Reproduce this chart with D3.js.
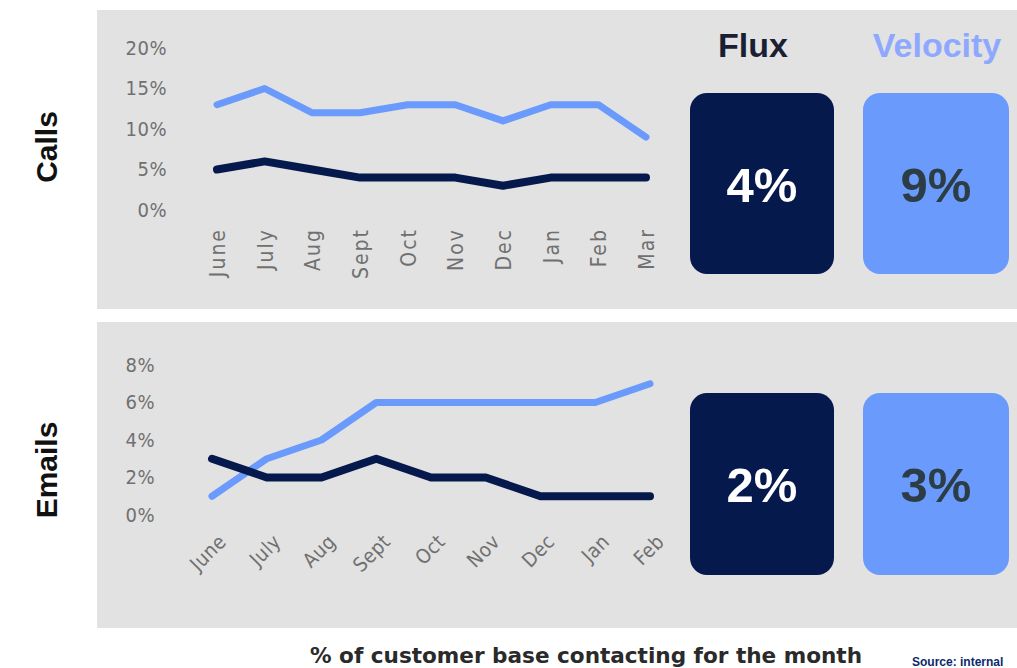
<!DOCTYPE html>
<html><head><meta charset="utf-8">
<script src="https://cdn.jsdelivr.net/npm/d3@7"></script>
<style>body{margin:0;background:#fff}svg{display:block}</style>
</head><body>
<svg id="c" width="1017" height="668"></svg>
<script>
// ---- data ----
const callsMonths = ["June","July","Aug","Sept","Oct","Nov","Dec","Jan","Feb","Mar"];
const callsFlux = [5,6,5,4,4,4,3,4,4,4];
const callsVelocity = [13,15,12,12,13,13,11,13,13,9];
const callsTicks = [0,5,10,15,20];
const emailMonths = ["June","July","Aug","Sept","Oct","Nov","Dec","Jan","Feb"];
const emailFlux = [3,2,2,3,2,2,1,1,1];
const emailVelocity = [1,3,4,6,6,6,6,6,7];
const emailTicks = [0,2,4,6,8];
const summaryLabels = ["Flux","Velocity"];
const callsSummary = ["4%","9%"];
const emailSummary = ["2%","3%"];

const DARK = "#06194d", LIGHT = "#6a9bfc";
const svg = d3.select("#c");
const tickFont = "'DejaVu Sans Condensed','DejaVu Sans',sans-serif";

// panels
svg.append("rect").attr("x",97).attr("y",10).attr("width",930).attr("height",299).attr("fill","#e2e2e2");
svg.append("rect").attr("x",97).attr("y",322).attr("width",930).attr("height",306).attr("fill","#e2e2e2");

function panel(months, flux, vel, ticks, xr, yr, ymax, rotate, labelY, tickX){
  const x = d3.scalePoint().domain(months).range(xr);
  const y = d3.scaleLinear().domain([0,ymax]).range(yr);
  const g = svg.append("g");
  // y ticks
  const ya = d3.axisLeft(y).tickValues(ticks).tickFormat(d=>d+"%").tickSize(0).tickPadding(0);
  const yg = g.append("g").attr("transform",`translate(${tickX},0)`).call(ya);
  yg.select(".domain").remove();
  yg.selectAll("text").attr("font-family",tickFont).attr("font-size",20).attr("letter-spacing",0.5).attr("fill","#707070");
  // x ticks
  const xa = d3.axisBottom(x).tickSize(0).tickPadding(0);
  const xg = g.append("g").attr("transform",`translate(0,${labelY})`).call(xa);
  xg.select(".domain").remove();
  const t = xg.selectAll("text").attr("font-family",tickFont).attr("fill","#707070").attr("text-anchor","end");
  if(rotate===-90){
    t.attr("font-size",21).attr("letter-spacing",2).attr("transform","rotate(-90)").attr("x",0).attr("y",0).attr("dy","0.35em");
  } else {
    t.attr("font-size",20).attr("letter-spacing",0.5).attr("transform","translate(10,0) rotate(-45)").attr("x",0).attr("y",0).attr("dy","0.35em");
  }
  const line = d3.line().x((d,i)=>x(months[i])).y(d=>y(d));
  g.append("path").datum(vel).attr("d",line).attr("fill","none").attr("stroke",LIGHT).attr("stroke-width",7).attr("stroke-linejoin","round").attr("stroke-linecap","round");
  g.append("path").datum(flux).attr("d",line).attr("fill","none").attr("stroke",DARK).attr("stroke-width",8).attr("stroke-linejoin","round").attr("stroke-linecap","round");
}
panel(callsMonths, callsFlux, callsVelocity, callsTicks, [217,646], [210,48], 20, -90, 228, 167);
panel(emailMonths, emailFlux, emailVelocity, emailTicks, [212,650], [515,365], 8, -45, 538, 155);

// headers
const hx = [753, 937];
svg.selectAll(".hdr").data(summaryLabels).join("text")
  .attr("x",(d,i)=>hx[i]).attr("y",57).attr("text-anchor","middle")
  .attr("font-family","'Liberation Sans',Arial,sans-serif").attr("font-weight","bold").attr("font-size",34)
  .attr("fill",(d,i)=>i?"#8ea8ff":"#1b1f33").text(d=>d);

function boxes(vals, top, h){
  const bx = [[690,144],[863,146]];
  vals.forEach((v,i)=>{
    svg.append("rect").attr("x",bx[i][0]).attr("y",top).attr("width",bx[i][1]).attr("height",h).attr("rx",17)
      .attr("fill", i?LIGHT:DARK);
    svg.append("text").attr("x",bx[i][0]+bx[i][1]/2).attr("y",top+h/2+18).attr("text-anchor","middle")
      .attr("font-family","'Liberation Sans',Arial,sans-serif").attr("font-weight","bold").attr("font-size",49)
      .attr("fill", i?"#2c3d45":"#ffffff").text(v);
  });
}
boxes(callsSummary, 93, 181);
boxes(emailSummary, 393, 182);

// row labels
[["Calls",147],["Emails",470]].forEach(([t,cy])=>{
  svg.append("text").attr("transform",`translate(57,${cy}) rotate(-90)`).attr("text-anchor","middle")
    .attr("font-family","'Liberation Sans',Arial,sans-serif").attr("font-weight","bold").attr("font-size",30)
    .attr("fill","#111").text(t);
});

// footer
svg.append("text").attr("x",586).attr("y",663).attr("text-anchor","middle")
  .attr("font-family","'DejaVu Sans Condensed','DejaVu Sans',sans-serif").attr("font-weight","bold").attr("font-size",21)
  .attr("fill","#2a2a2a").attr("textLength",552).attr("lengthAdjust","spacingAndGlyphs")
  .text("% of customer base contacting for the month");
svg.append("text").attr("x",912).attr("y",666)
  .attr("font-family","'Liberation Sans',Arial,sans-serif").attr("font-weight","bold").attr("font-size",12)
  .attr("fill","#0b2a6b").text("Source: internal");
</script>
</body></html>
